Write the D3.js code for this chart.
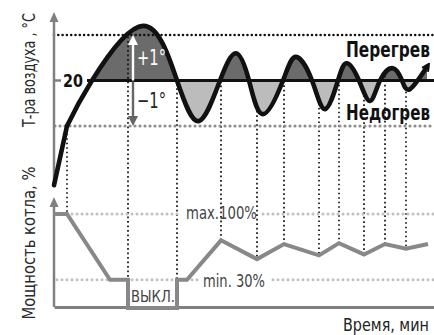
<!DOCTYPE html>
<html><head><meta charset="utf-8">
<script src="https://cdn.jsdelivr.net/npm/d3@7"></script>
<style>
html,body{margin:0;padding:0;background:#fff;overflow:hidden}
svg{display:block}
text{font-family:"Liberation Sans Narrow","DejaVu Sans Condensed",Roboto,"Liberation Sans",sans-serif}
</style></head><body>
<svg id="chart" width="434" height="335"></svg>
<script>
// Air temperature, °C, against time, min
const tempTime  = [0, 6.5, 19, 44.5, 61.5, 72.5, 83, 91, 97.5, 104.5, 114.5, 121, 129, 135.5, 142, 146.5, 152.5, 158, 163, 169.5, 174, 178, 186.5];
const tempValue = [17.7, 19.0, 20.0, 21.2, 20.0, 19.11, 20.0, 20.6, 20.0, 19.26, 20.0, 20.52, 20.0, 19.37, 20.0, 20.38, 20.0, 19.55, 20.0, 20.27, 20.0, 19.81, 20.3];
// Boiler power, %, against time, min
const powerTime  = [0, 6.5, 28, 37, 37, 61.5, 61.5, 66.5, 83.5, 101.5, 115, 132.5, 142.5, 155, 165.5, 176, 187];
const powerValue = [100, 100, 30, 30, 0, 0, 30, 30, 72, 52, 68, 56, 69, 57, 68, 63, 68];
// Moments when the boiler changes its output
const switchTimes = [6.5, 37, 61.5, 83.5, 101.5, 115, 132.5, 142.5, 155, 165.5, 176];
// Setpoint and band
const setpoint = 20, band = 1;
const powerMax = 100, powerMin = 30, powerOff = 0;
const fillStart = 19; // first time the air reaches the setpoint

const W = 434, H = 335;
const svg = d3.select("#chart");
const x  = d3.scaleLinear().domain([0, 190]).range([54, 434]);
const yT = d3.scaleLinear().domain([setpoint - band, setpoint + band]).range([126, 35]);
const yP = d3.scaleLinear().domain([0, 100]).range([308, 214]);

const temp  = tempTime.map((t, i) => ({t, v: tempValue[i]}));
const power = powerTime.map((t, i) => ({t, v: powerValue[i]}));

const AX = "#808080";
const defs = svg.append("defs");

// clip regions above / below the setpoint
defs.append("clipPath").attr("id", "above").append("rect")
  .attr("x", x(fillStart)).attr("y", 0).attr("width", W).attr("height", yT(setpoint));
defs.append("clipPath").attr("id", "below").append("rect")
  .attr("x", x(fillStart)).attr("y", yT(setpoint)).attr("width", W).attr("height", H);

defs.append("marker").attr("id", "tip")
  .attr("viewBox", "0 0 10 10").attr("refX", 5).attr("refY", 5)
  .attr("markerWidth", 9).attr("markerHeight", 9).attr("markerUnits", "userSpaceOnUse")
  .attr("orient", "auto")
  .append("path").attr("d", "M1,1 L9,5 L1,9").attr("fill", "none")
  .attr("stroke", "#111").attr("stroke-width", 2.2);

// warm-up leg is straight, the rest a smooth spline
const lin = d3.line().x(d => x(d.t)).y(d => yT(d.v));
const nat = d3.line().x(d => x(d.t)).y(d => yT(d.v)).curve(d3.curveNatural);
const curvePath = lin(temp.slice(0, 2)) + "L" + nat(temp.slice(1)).slice(1);
const last = temp[temp.length - 1];
const areaPath = curvePath + `L${x(last.t)},${yT(setpoint)}L${x(0)},${yT(setpoint)}Z`;

svg.append("path").attr("d", areaPath).attr("fill", "#6b6b6b").attr("clip-path", "url(#above)");
svg.append("path").attr("d", areaPath).attr("fill", "#bcbcbc").attr("clip-path", "url(#below)");

// hidden copy of the curve used to look up its height at any time
const probe = svg.append("path").attr("d", curvePath).attr("fill", "none").attr("stroke", "none").node();
const L = probe.getTotalLength();
const samples = d3.range(0, 1601).map(i => probe.getPointAtLength(L * i / 1600));
function curveY(px) {
  let best = samples[0];
  for (const s of samples) if (Math.abs(s.x - px) < Math.abs(best.x - px)) best = s;
  return best.y;
}
function powerAt(t) {
  let v = -Infinity;
  for (let i = 0; i < power.length - 1; i++) {
    const a = power[i], b = power[i + 1];
    if (t < a.t || t > b.t) continue;
    if (a.t === b.t) v = Math.max(v, a.v, b.v);
    else v = Math.max(v, a.v + (b.v - a.v) * (t - a.t) / (b.t - a.t));
  }
  return v;
}

// vertical guides from the air curve down to the power curve
svg.append("g").selectAll("line").data(switchTimes).join("line")
  .attr("x1", d => x(d)).attr("x2", d => x(d))
  .attr("y1", d => curveY(x(d)) + 3).attr("y2", d => yP(powerAt(d)))
  .attr("stroke", "#111").attr("stroke-width", 1.7)
  .attr("stroke-dasharray", "1.7 2.8");

// band lines
svg.append("line").attr("x1", 54).attr("x2", W).attr("y1", yT(setpoint + band)).attr("y2", yT(setpoint + band))
  .attr("stroke", "#111").attr("stroke-width", 2.6).attr("stroke-linecap", "round").attr("stroke-dasharray", "0 4.3");
svg.append("line").attr("x1", 55).attr("x2", W).attr("y1", yT(setpoint - band)).attr("y2", yT(setpoint - band))
  .attr("stroke", "#8f8f8f").attr("stroke-width", 3.2).attr("stroke-linecap", "round").attr("stroke-dasharray", "0 5");

// power limits
const limit = (v, segs) => segs.forEach(([a, b]) =>
  svg.append("line").attr("x1", a).attr("x2", b).attr("y1", yP(v)).attr("y2", yP(v))
    .attr("stroke", "#c0c0c0").attr("stroke-width", 3).attr("stroke-linecap", "round").attr("stroke-dasharray", "0 5"));
limit(powerMax, [[72, 180], [263, W]]);
limit(powerMin, [[57, 198], [273, W]]);

// setpoint line
svg.append("line").attr("x1", 54).attr("x2", 61).attr("y1", yT(setpoint)).attr("y2", yT(setpoint))
  .attr("stroke", AX).attr("stroke-width", 2.5);
svg.append("line").attr("x1", 87).attr("x2", W).attr("y1", yT(setpoint)).attr("y2", yT(setpoint))
  .attr("stroke", "#111").attr("stroke-width", 3.2);

// axes
svg.append("line").attr("x1", 54).attr("x2", 54).attr("y1", 186).attr("y2", 20).attr("stroke", AX).attr("stroke-width", 2.5);
svg.append("path").attr("d", "M54,12 L58.5,22 L49.5,22 Z").attr("fill", AX);
svg.append("line").attr("x1", 54).attr("x2", 54).attr("y1", 307).attr("y2", 205).attr("stroke", AX).attr("stroke-width", 2.5);
svg.append("path").attr("d", "M54,197 L58.5,207 L49.5,207 Z").attr("fill", AX);
const xAxis = svg.append("g").attr("transform", "translate(0,307)")
  .call(d3.axisBottom(x).tickValues([]).tickSizeOuter(0));
xAxis.select(".domain").attr("stroke", AX).attr("stroke-width", 3);

// boiler power
svg.append("path").datum(power)
  .attr("d", d3.line().x(d => x(d.t)).y(d => yP(d.v)))
  .attr("fill", "none").attr("stroke", "#888").attr("stroke-width", 4)
  .attr("stroke-linejoin", "miter");

// air temperature
svg.append("path").attr("d", curvePath).attr("fill", "none")
  .attr("stroke", "#111").attr("stroke-width", 4.6).attr("stroke-linecap", "round")
  .attr("stroke-linejoin", "round").attr("marker-end", "url(#tip)");

// ±1° arrows
const ax = x(39.5);
svg.append("line").attr("x1", ax).attr("x2", ax).attr("y1", yT(setpoint)).attr("y2", yT(setpoint + band) + 8)
  .attr("stroke", "#fff").attr("stroke-width", 2.4);
svg.append("path").attr("d", `M${ax},${yT(setpoint + band)} L${ax + 5},${yT(setpoint + band) + 10} L${ax - 5},${yT(setpoint + band) + 10} Z`).attr("fill", "#fff");
svg.append("line").attr("x1", ax).attr("x2", ax).attr("y1", yT(setpoint) + 1).attr("y2", yT(setpoint - band) - 8)
  .attr("stroke", "#666").attr("stroke-width", 2.4);
svg.append("path").attr("d", `M${ax},${yT(setpoint - band)} L${ax + 5},${yT(setpoint - band) - 10} L${ax - 5},${yT(setpoint - band) - 10} Z`).attr("fill", "#666");

// text squeezed horizontally to a given width
function label(txt, px, py, size, len, opts = {}) {
  const t = svg.append("text").attr("font-size", size)
    .attr("fill", opts.fill || "#222").attr("font-weight", opts.weight || "normal")
    .attr("text-anchor", opts.anchor || "start").text(txt);
  const w = t.node().getComputedTextLength();
  t.attr("transform", `translate(${px},${py})${opts.rotate ? " rotate(" + opts.rotate + ")" : ""} scale(${len / w},1)`);
  return t;
}
label("20", 63, yT(setpoint) + 6.5, 18, 20, {weight: "bold", fill: "#111"});
label("+1°", 137, 65, 21, 29, {fill: "#fff"});
label("−1°", 137, 108, 21, 29);
label("Перегрев", 346, 57, 21, 84, {weight: "bold", fill: "#111"});
label("Недогрев", 346, 120, 21, 84, {weight: "bold", fill: "#111"});
label("max.100%", 186, yP(powerMax) + 4.5, 18, 71, {fill: "#444"});
label("min. 30%", 203, yP(powerMin) + 7, 18, 62, {fill: "#444"});
label("ВЫКЛ.", 131, 302, 16, 44, {fill: "#444"});
label("Время, мин", 343, 331, 18, 86);

// axis titles
label("Т-ра воздуха , °С", 35, 70, 17, 114, {fill: "#2a2a2a", anchor: "middle", rotate: -90});
label("Мощность котла, %", 35, 243, 17, 153, {fill: "#2a2a2a", anchor: "middle", rotate: -90});
</script>
</body></html>
